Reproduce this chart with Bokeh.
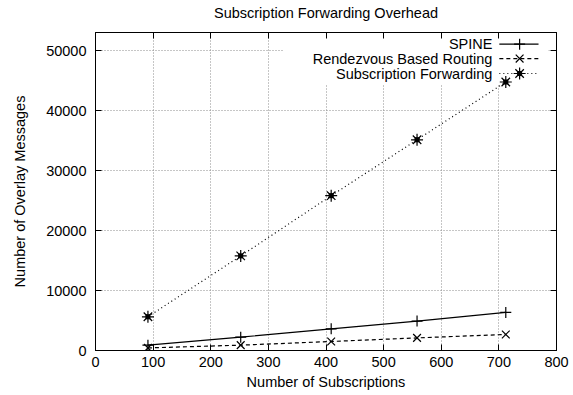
from bokeh.plotting import figure
from bokeh.models import Range1d, LinearAxis, FixedTicker, BoxAnnotation
from bokeh.core.properties import value
from bokeh.embed import file_html
from bokeh.resources import INLINE

TITLE = "Subscription Forwarding Overhead"
X_LABEL = "Number of Subscriptions"
Y_LABEL = "Number of Overlay Messages"
X_TICKS = [0, 100, 200, 300, 400, 500, 600, 700, 800]
Y_TICKS = [0, 10000, 20000, 30000, 40000, 50000]
X_MAX = 800
Y_MAX = 53000

SUBS = [91, 252, 409, 558, 712]
SPINE = [890, 2220, 3610, 4900, 6350]
RENDEZVOUS = [430, 890, 1500, 2100, 2675]
SUB_FWD = [5620, 15770, 25800, 35120, 44750]
SERIES_NAMES = ["SPINE", "Rendezvous Based Routing", "Subscription Forwarding"]

FONT = "Liberation Sans"
FS = "14.5px"

p = figure(width=573, height=395, output_backend="svg", toolbar_location=None,
           x_range=Range1d(0, X_MAX), y_range=Range1d(0, Y_MAX),
           min_border_left=95, min_border_right=17, min_border_top=32,
           min_border_bottom=45)
p.outline_line_color = "black"
p.outline_line_width = 1

def style_axis(ax, ticks, labels=True):
    ax.axis_line_color = "black"
    ax.major_tick_in = 6
    ax.major_tick_out = 0
    ax.minor_tick_line_color = None
    ax.major_tick_line_color = "black"
    ax.major_label_text_font = FONT
    ax.major_label_text_font_size = FS
    ax.major_label_text_color = "black"
    ax.axis_label_text_font = FONT
    ax.axis_label_text_font_size = FS
    ax.axis_label_text_font_style = "normal"
    ax.axis_label_text_color = "black"
    if not labels:
        ax.major_label_overrides = {t: "" for t in ticks}
        ax.major_label_standoff = 0

xt = FixedTicker(ticks=X_TICKS)
yt = FixedTicker(ticks=Y_TICKS)
p.xaxis.ticker = xt
p.yaxis.ticker = yt
for ax in p.xaxis:
    style_axis(ax, X_TICKS)
    ax.axis_label = X_LABEL
    ax.major_label_standoff = 6
    ax.axis_label_standoff = 4
for ax in p.yaxis:
    style_axis(ax, Y_TICKS)
    ax.axis_label = Y_LABEL
    ax.major_label_standoff = 9
    ax.axis_label_standoff = 15
    ax.major_label_orientation = "horizontal"

# top axis carries the chart title as its label (centred over the frame)
top = LinearAxis(ticker=FixedTicker(ticks=X_TICKS))
style_axis(top, X_TICKS, labels=False)
top.axis_label = TITLE
top.axis_label_standoff = 12
p.add_layout(top, "above")
right = LinearAxis(ticker=FixedTicker(ticks=Y_TICKS))
style_axis(right, Y_TICKS, labels=False)
p.add_layout(right, "right")

p.xgrid.ticker = xt
p.ygrid.ticker = yt
for g in (p.xgrid, p.ygrid):
    g.grid_line_color = "#8c8c8c"
    g.grid_line_dash = "1 2"
    g.grid_line_width = 1

# opaque legend area (hides grid behind legend)
leg_box = BoxAnnotation(left=0.4075 * X_MAX, right=0.9825 * X_MAX,
                        bottom=0.837 * Y_MAX, top=Y_MAX,
                        fill_color="white", fill_alpha=1.0, line_color=None,
                        level="underlay")
p.add_layout(leg_box)

# data series
p.line(SUBS, SPINE, line_color="black", line_width=1.2)
p.scatter(SUBS, SPINE, marker="cross", size=11, line_color="black", line_width=1.2)

p.line(SUBS, RENDEZVOUS, line_color="black", line_width=1.2, line_dash="4 3")
p.scatter(SUBS, RENDEZVOUS, marker="x", size=11, line_color="black", line_width=1.2)

p.line(SUBS, SUB_FWD, line_color="black", line_width=1.2, line_dash="1 3")
p.scatter(SUBS, SUB_FWD, marker="asterisk", size=12, line_color="black", line_width=1.2)
p.scatter(SUBS, SUB_FWD, marker="square", size=4, fill_color="black", line_color="black")

# legend (gnuplot style: right-aligned text, sample to the right)
text_x = 0.861 * X_MAX
s0 = 0.876 * X_MAX
s1 = 0.961 * X_MAX
mx = 0.92 * X_MAX
rows = [0.9633 * Y_MAX, 0.918 * Y_MAX, 0.871 * Y_MAX]
p.text(x=[text_x] * 3, y=rows, text=SERIES_NAMES, text_align="right",
       text_baseline="middle", text_font=value(FONT), text_font_size=FS,
       text_color="black")
p.line([s0, s1], [rows[0]] * 2, line_color="black", line_width=1.2)
p.scatter([mx], [rows[0]], marker="cross", size=11, line_color="black", line_width=1.2)
p.line([s0, s1], [rows[1]] * 2, line_color="black", line_width=1.2, line_dash="4 3")
p.scatter([mx], [rows[1]], marker="x", size=11, line_color="black", line_width=1.2)
p.line([s0, s1], [rows[2]] * 2, line_color="black", line_width=1.2, line_dash="1 3")
p.scatter([mx], [rows[2]], marker="asterisk", size=12, line_color="black", line_width=1.2)
p.scatter([mx], [rows[2]], marker="square", size=4, fill_color="black", line_color="black")

open("out.html", "w").write(file_html(p, INLINE))
